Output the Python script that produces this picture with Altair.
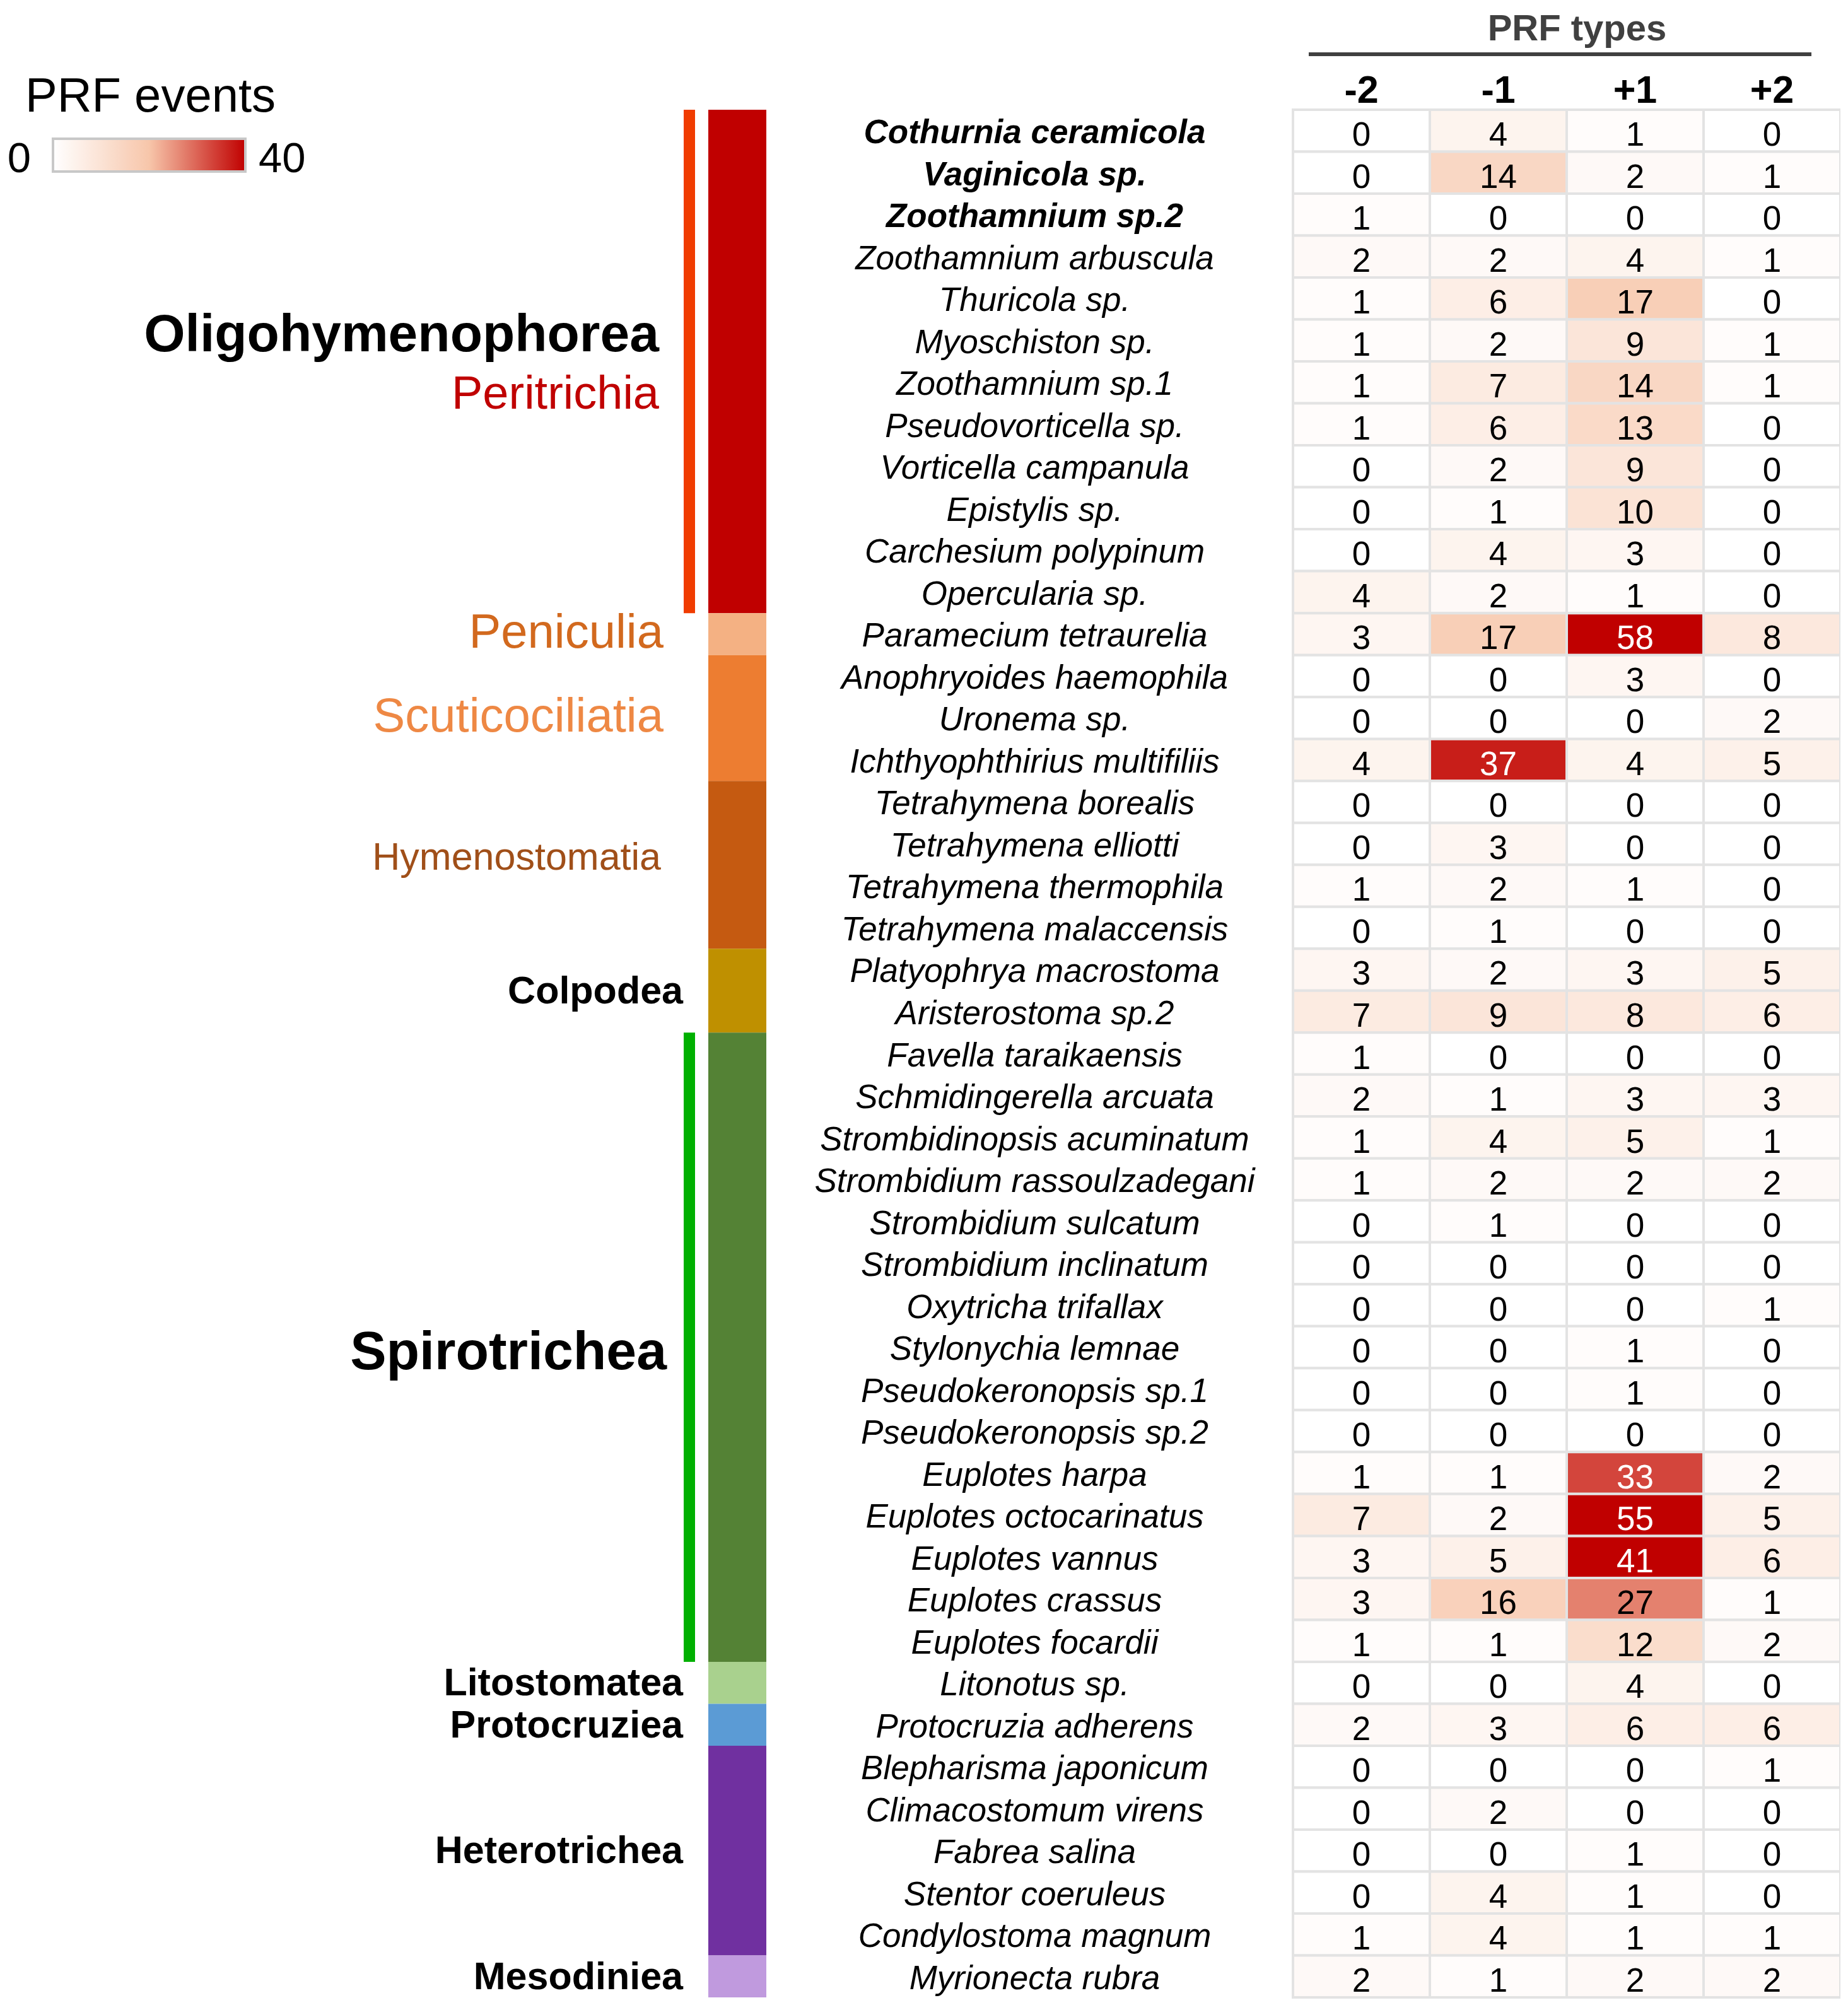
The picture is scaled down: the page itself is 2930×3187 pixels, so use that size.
import json
import altair as alt
import pandas as pd

FONT = "Liberation Sans"

# ---------------- data ----------------
species = [
    "Cothurnia ceramicola", "Vaginicola sp.", "Zoothamnium sp.2", "Zoothamnium arbuscula",
    "Thuricola sp.", "Myoschiston sp.", "Zoothamnium sp.1", "Pseudovorticella sp.",
    "Vorticella campanula", "Epistylis sp.", "Carchesium polypinum", "Opercularia sp.",
    "Paramecium tetraurelia",
    "Anophryoides haemophila", "Uronema sp.", "Ichthyophthirius multifiliis",
    "Tetrahymena borealis", "Tetrahymena elliotti", "Tetrahymena thermophila", "Tetrahymena malaccensis",
    "Platyophrya macrostoma", "Aristerostoma sp.2",
    "Favella taraikaensis", "Schmidingerella arcuata", "Strombidinopsis acuminatum",
    "Strombidium rassoulzadegani", "Strombidium sulcatum", "Strombidium inclinatum",
    "Oxytricha trifallax", "Stylonychia lemnae", "Pseudokeronopsis sp.1", "Pseudokeronopsis sp.2",
    "Euplotes harpa", "Euplotes octocarinatus", "Euplotes vannus", "Euplotes crassus", "Euplotes focardii",
    "Litonotus sp.", "Protocruzia adherens",
    "Blepharisma japonicum", "Climacostomum virens", "Fabrea salina", "Stentor coeruleus",
    "Condylostoma magnum",
    "Myrionecta rubra",
]
bold_species = ["Cothurnia ceramicola", "Vaginicola sp.", "Zoothamnium sp.2"]

prf_types = ["-2", "-1", "+1", "+2"]
m2 = [0, 0, 1, 2, 1, 1, 1, 1, 0, 0, 0, 4,
      3,
      0, 0, 4,
      0, 0, 1, 0,
      3, 7,
      1, 2, 1, 1, 0, 0, 0, 0, 0, 0, 1, 7, 3, 3, 1,
      0, 2,
      0, 0, 0, 0, 1,
      2]
m1 = [4, 14, 0, 2, 6, 2, 7, 6, 2, 1, 4, 2,
      17,
      0, 0, 37,
      0, 3, 2, 1,
      2, 9,
      0, 1, 4, 2, 1, 0, 0, 0, 0, 0, 1, 2, 5, 16, 1,
      0, 3,
      0, 2, 0, 4, 4,
      1]
p1 = [1, 2, 0, 4, 17, 9, 14, 13, 9, 10, 3, 1,
      58,
      3, 0, 4,
      0, 0, 1, 0,
      3, 8,
      0, 3, 5, 2, 0, 0, 0, 1, 1, 0, 33, 55, 41, 27, 12,
      4, 6,
      0, 0, 1, 1, 1,
      2]
p2 = [0, 1, 0, 1, 0, 1, 1, 0, 0, 0, 0, 0,
      8,
      0, 2, 5,
      0, 0, 0, 0,
      5, 6,
      0, 3, 1, 2, 0, 0, 1, 0, 0, 0, 2, 5, 6, 1, 2,
      0, 6,
      1, 0, 0, 0, 1,
      2]

color_domain = [0, 20, 40]
legend_title = "PRF events"

groups = ["Peritrichia", "Peniculia", "Scuticociliatia", "Hymenostomatia", "Colpodea",
          "Spirotrichea", "Litostomatea", "Protocruziea", "Heterotrichea", "Mesodiniea"]
group_sizes = [12, 1, 3, 4, 2, 15, 1, 1, 5, 1]
group_colors = ["#c00000", "#f4b183", "#ed7d31", "#c55a11", "#bf9000",
                "#548235", "#a9d18e", "#5b9bd5", "#7030a0", "#c09ade"]

line_groups = ["Peritrichia", "Spirotrichea"]
line_colors = ["#f03c00", "#00b000"]

label_text = ["Oligohymenophorea", "Peritrichia", "Peniculia", "Scuticociliatia", "Hymenostomatia",
              "Colpodea", "Spirotrichea", "Litostomatea", "Protocruziea", "Heterotrichea", "Mesodiniea"]
label_group = ["Peritrichia", "Peritrichia", "Peniculia", "Scuticociliatia", "Hymenostomatia",
               "Colpodea", "Spirotrichea", "Litostomatea", "Protocruziea", "Heterotrichea", "Mesodiniea"]
label_kind = ["class_pair", "subclass_pair", "subclass", "subclass", "subclass_small",
              "class", "class_big", "class", "class", "class", "class"]

# ---------------- styles ----------------
label_colors = {"Peritrichia": "#c00000", "Peniculia": "#d2691e", "Scuticociliatia": "#ee8844",
                "Hymenostomatia": "#a04f19"}
kind_style = {
    "class_pair":     dict(size=84, weight="bold",   x=-1005, dy=-16),
    "subclass_pair":  dict(size=74, weight="normal", x=-1005, dy=75),
    "subclass":       dict(size=76, weight="normal", x=-998,  dy=22),
    "subclass_small": dict(size=61, weight="normal", x=-1002, dy=8),
    "class_big":      dict(size=86, weight="bold",   x=-993,  dy=35),
    "class":          dict(size=61, weight="bold",   x=-967,  dy=20),
}

# ---------------- tables ----------------
cells = pd.DataFrame([
    {"species": s, "type": t, "value": vals[i]}
    for i, s in enumerate(species)
    for t, vals in zip(prf_types, [m2, m1, p1, p2])
])

starts, acc = [], 0
for n in group_sizes:
    starts.append(acc)
    acc += n
ends = [s + n for s, n in zip(starts, group_sizes)]
bars = pd.DataFrame({"group": groups, "start": starts, "end": ends, "color": group_colors})

lines = pd.DataFrame({
    "group": line_groups,
    "start": [starts[groups.index(g)] for g in line_groups],
    "end": [ends[groups.index(g)] for g in line_groups],
    "color": line_colors,
})

labels = pd.DataFrame({
    "text": label_text,
    "mid": [(starts[groups.index(g)] + ends[groups.index(g)]) / 2 for g in label_group],
    "kind": label_kind,
    "color": [label_colors.get(t, "black") for t in label_text],
})

n_rows = len(species)
yq = alt.Scale(domain=[0, n_rows], reverse=True, nice=False, zero=False)

bold_test = "indexof(" + json.dumps(bold_species) + ", datum.value) >= 0"

x_axis = alt.Axis(
    orient="top", title="PRF types", titleFont=FONT, titleFontSize=58, titleFontWeight="bold",
    titleColor="#404040", titleX=450, titleY=-111, titleBaseline="alphabetic", titleAlign="center",
    labelFont=FONT, labelFontSize=61, labelFontWeight="bold", labelColor="black", labelAngle=0,
    labelBaseline="alphabetic", labelPadding=12, ticks=False, tickSize=0, domain=False, grid=False,
)
xenc = alt.X("type:N", scale=alt.Scale(domain=prf_types, paddingInner=0, paddingOuter=0), axis=x_axis)

y_axis = alt.Axis(
    orient="left", title=None, ticks=False, tickSize=0, domain=False, grid=False,
    labelPadding=410, labelAlign="center", labelBaseline="alphabetic", labelOffset=20,
    labelFont=FONT, labelFontSize=53, labelFontStyle="italic",
    labelFontWeight={"condition": {"test": bold_test, "value": "bold"}, "value": "normal"},
    labelColor="black", labelLimit=1000, labelOverlap=False,
)
yscale_n = alt.Scale(domain=species, paddingInner=0, paddingOuter=0)

legend = alt.Legend(
    title=None, orient="none", legendX=-1966, legendY=46, direction="horizontal",
    gradientLength=305, gradientThickness=52, gradientStrokeColor="#c8c8c8", gradientStrokeWidth=4,
    labelOpacity=0, values=[color_domain[0], color_domain[-1]], padding=0,
)

heat = alt.Chart(cells).mark_rect(stroke="#e3e3e3", strokeWidth=4).encode(
    x=xenc,
    y=alt.Y("species:N", scale=yscale_n, axis=y_axis),
    color=alt.Color("value:Q", legend=legend,
                    scale=alt.Scale(domain=color_domain, range=["#ffffff", "#f7c6aa", "#c00000"],
                                    clamp=True, interpolate="rgb")),
)

nums = alt.Chart(cells).mark_text(font=FONT, fontSize=53, baseline="alphabetic", dy=24).encode(
    x=xenc,
    y=alt.Y("species:N", scale=yscale_n, axis=None),
    text="value:Q",
    color=alt.condition("datum.value >= 30", alt.value("white"), alt.value("black")),
)

underline = alt.Chart(pd.DataFrame({"t": ["PRF types"]})).mark_rule(
    color="#404040", strokeWidth=6
).encode(x=alt.value(25), x2=alt.value(822), y=alt.value(-88))

# legend annotations (title and end labels)
leg_title = alt.Chart(pd.DataFrame({"t": [legend_title]})).mark_text(
    font=FONT, fontSize=76, align="left", baseline="alphabetic", color="black"
).encode(x=alt.value(-2010), y=alt.value(3), text="t:N")
leg_lo = alt.Chart(pd.DataFrame({"t": [str(color_domain[0])]})).mark_text(
    font=FONT, fontSize=67, align="right", baseline="alphabetic", color="black"
).encode(x=alt.value(-2001), y=alt.value(99), text="t:N")
leg_hi = alt.Chart(pd.DataFrame({"t": [str(color_domain[-1])]})).mark_text(
    font=FONT, fontSize=67, align="left", baseline="alphabetic", color="black"
).encode(x=alt.value(-1640), y=alt.value(99), text="t:N")

colorbar = alt.Chart(bars).mark_rect().encode(
    x=alt.value(-927), x2=alt.value(-835),
    y=alt.Y("start:Q", scale=yq, axis=None), y2="end:Q",
    fill=alt.Fill("color:N", scale=None),
)

vlines = alt.Chart(lines).mark_rule(strokeWidth=18).encode(
    x=alt.value(-957),
    y=alt.Y("start:Q", scale=yq, axis=None), y2="end:Q",
    stroke=alt.Stroke("color:N", scale=None),
)

label_layers = []
for kind, st in kind_style.items():
    label_layers.append(
        alt.Chart(labels).transform_filter(alt.datum.kind == kind).mark_text(
            font=FONT, fontSize=st["size"], fontWeight=st["weight"], align="right",
            baseline="alphabetic", dy=st["dy"],
        ).encode(
            x=alt.value(st["x"]),
            y=alt.Y("mid:Q", scale=yq, axis=None),
            text="text:N",
            fill=alt.Fill("color:N", scale=None),
        )
    )

chart = alt.layer(
    heat, nums, underline, leg_title, leg_lo, leg_hi, colorbar, vlines, *label_layers
).resolve_scale(
    y="independent"
).properties(
    width=868, height=2993,
    autosize=alt.AutoSizeParams(type="none"),
    padding={"left": 2042, "top": 166, "right": 0, "bottom": 4},
).configure_view(strokeWidth=0)

chart.save("out.html", embed_options={"renderer": "svg", "actions": False})
